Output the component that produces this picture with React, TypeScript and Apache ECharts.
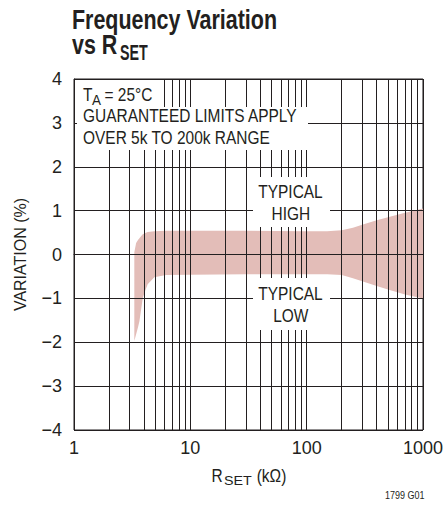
import React, { useEffect, useRef } from "react";
import * as echarts from "echarts";

// R_SET (kΩ) sample positions along the band edges
const rset = [3.3, 3.42, 3.55, 3.65, 3.8, 3.9, 4.1, 4.3, 4.9, 6.2, 10, 30, 100, 150, 200, 250, 300, 400, 500, 700, 1000];
// Typical high edge (%)
const upper = [0.05, 0.26, 0.33, 0.37, 0.43, 0.46, 0.49, 0.51, 0.53, 0.54, 0.54, 0.54, 0.53, 0.53, 0.55, 0.61, 0.68, 0.78, 0.85, 0.95, 1.05];
// Typical low edge (%)
const lower = [-1.97, -1.82, -1.66, -1.52, -1.2, -0.99, -0.82, -0.68, -0.52, -0.47, -0.46, -0.45, -0.45, -0.45, -0.47, -0.54, -0.61, -0.72, -0.8, -0.91, -1.0];
// Log-grid minor lines
const minorGrid = [2, 3, 4, 5, 6, 7, 8, 9, 20, 30, 40, 50, 60, 70, 80, 90, 200, 300, 400, 500, 600, 700, 800, 900];
const yTicks = { min: -4, max: 4, interval: 1 };

const INK = "#231f20";
const FONT = "'Liberation Sans', Arial, sans-serif";

function txt(text: string, x: number, baseline: number, f: number, sx: number, opts: any = {}) {
  return {
    type: "text",
    x,
    y: baseline - 0.3465 * f,
    scaleX: sx,
    z: 11,
    silent: true,
    style: {
      text,
      fill: INK,
      font: `${opts.bold ? "bold " : ""}${f}px ${FONT}`,
      align: opts.align || "left",
      verticalAlign: "middle",
    },
  };
}

function box(x: number, y: number, w: number, h: number) {
  return {
    type: "rect",
    shape: { x, y, width: w, height: h },
    style: { fill: "#ffffff" },
    z: 10,
    silent: true,
  };
}

export default function App() {
  const ref = useRef<HTMLDivElement>(null);
  useEffect(() => {
    document.body.style.margin = "0";
    const chart = echarts.init(ref.current!, null, { renderer: "svg" });
    const S = 0.86;
    chart.setOption({
      animation: false,
      grid: {
        left: 74,
        right: 20,
        top: 79,
        bottom: 75,
        show: true,
        borderColor: INK,
        borderWidth: 1,
        backgroundColor: "transparent",
      },
      xAxis: {
        type: "log",
        logBase: 10,
        min: 1,
        max: 1000,
        z: 3,
        axisLine: { show: true, lineStyle: { color: INK, width: 1 } },
        axisTick: { show: false },
        splitLine: { show: true, lineStyle: { color: INK, width: 1 } },
        minorTick: { show: false },
        axisLabel: {
          fontSize: 18,
          color: INK,
          margin: 9,
          fontFamily: FONT,
          formatter: (v: number) => String(Math.round(v)),
        },
      },
      yAxis: {
        type: "value",
        min: yTicks.min,
        max: yTicks.max,
        interval: yTicks.interval,
        z: 3,
        name: "VARIATION (%)",
        nameLocation: "middle",
        nameGap: 46,
        nameTextStyle: { fontSize: 16, color: INK, fontFamily: FONT },
        axisLine: { show: true, lineStyle: { color: INK, width: 1 } },
        axisTick: { show: false },
        splitLine: { show: true, lineStyle: { color: INK, width: 1 } },
        axisLabel: {
          fontSize: 18,
          color: INK,
          margin: 12,
          fontFamily: FONT,
          formatter: (v: number) => (v < 0 ? "\u2212" + Math.abs(v) : String(v)),
        },
      },
      series: [
        {
          type: "custom",
          name: "band",
          coordinateSystem: "cartesian2d",
          data: rset.map((x, i) => [x, upper[i], lower[i]]),
          encode: { x: 0, y: [1, 2] },
          z: 2,
          silent: true,
          clip: true,
          renderItem: (params: any, api: any) => {
            if (params.dataIndex !== 0) return null;
            const top = rset.map((x, i) => api.coord([x, upper[i]]));
            const bottom = rset.map((x, i) => api.coord([x, lower[i]])).reverse();
            return {
              type: "polygon",
              shape: { points: top.concat(bottom), smooth: 0 },
              style: { fill: "#e3bdb8", stroke: "none" },
            };
          },
        },
        {
          type: "line",
          name: "grid",
          data: rset.map((x, i) => [x, lower[i]]),
          symbol: "none",
          lineStyle: { opacity: 0 },
          z: 4,
          silent: true,
          markLine: {
            silent: true,
            symbol: ["none", "none"],
            label: { show: false },
            lineStyle: { color: INK, width: 1, type: "solid" },
            data: minorGrid.map((v) => ({ xAxis: v })),
          },
        },
      ],
      graphic: [
        // title
        txt("Frequency Variation", 72, 28.3, 28, 0.766, { bold: true }),
        txt("vs R", 72, 53.3, 28, 0.766, { bold: true }),
        txt("SET", 120, 59.7, 22, 0.65, { bold: true }),
        // annotation boxes
        box(77, 80, 83, 27),
        box(77, 107, 231, 43),
        box(253, 177, 77, 50),
        box(253, 278, 77, 52),
        txt("T", 83, 101.5, 18, S),
        txt("A", 92, 105, 15, 0.9),
        txt("= 25°C", 104.5, 101.5, 18, S),
        txt("GUARANTEED LIMITS APPLY", 83, 122.7, 18, S),
        txt("OVER 5k TO 200k RANGE", 83, 144.3, 18, S),
        txt("TYPICAL", 290.5, 198.3, 18, S, { align: "center" }),
        txt("HIGH", 290.8, 220, 18, S, { align: "center" }),
        txt("TYPICAL", 290.5, 300, 18, S, { align: "center" }),
        txt("LOW", 290.8, 322, 18, S, { align: "center" }),
        // x-axis name
        txt("R", 211.5, 482, 18, S),
        txt("SET", 224, 485, 13, 1.1),
        txt("(kΩ)", 256.7, 482, 18, S),
        // figure id
        txt("1799 G01", 385, 498.3, 10, 0.9),
      ],
    });
    return () => chart.dispose();
  }, []);
  return <div ref={ref} style={{ width: 446, height: 505 }} />;
}
